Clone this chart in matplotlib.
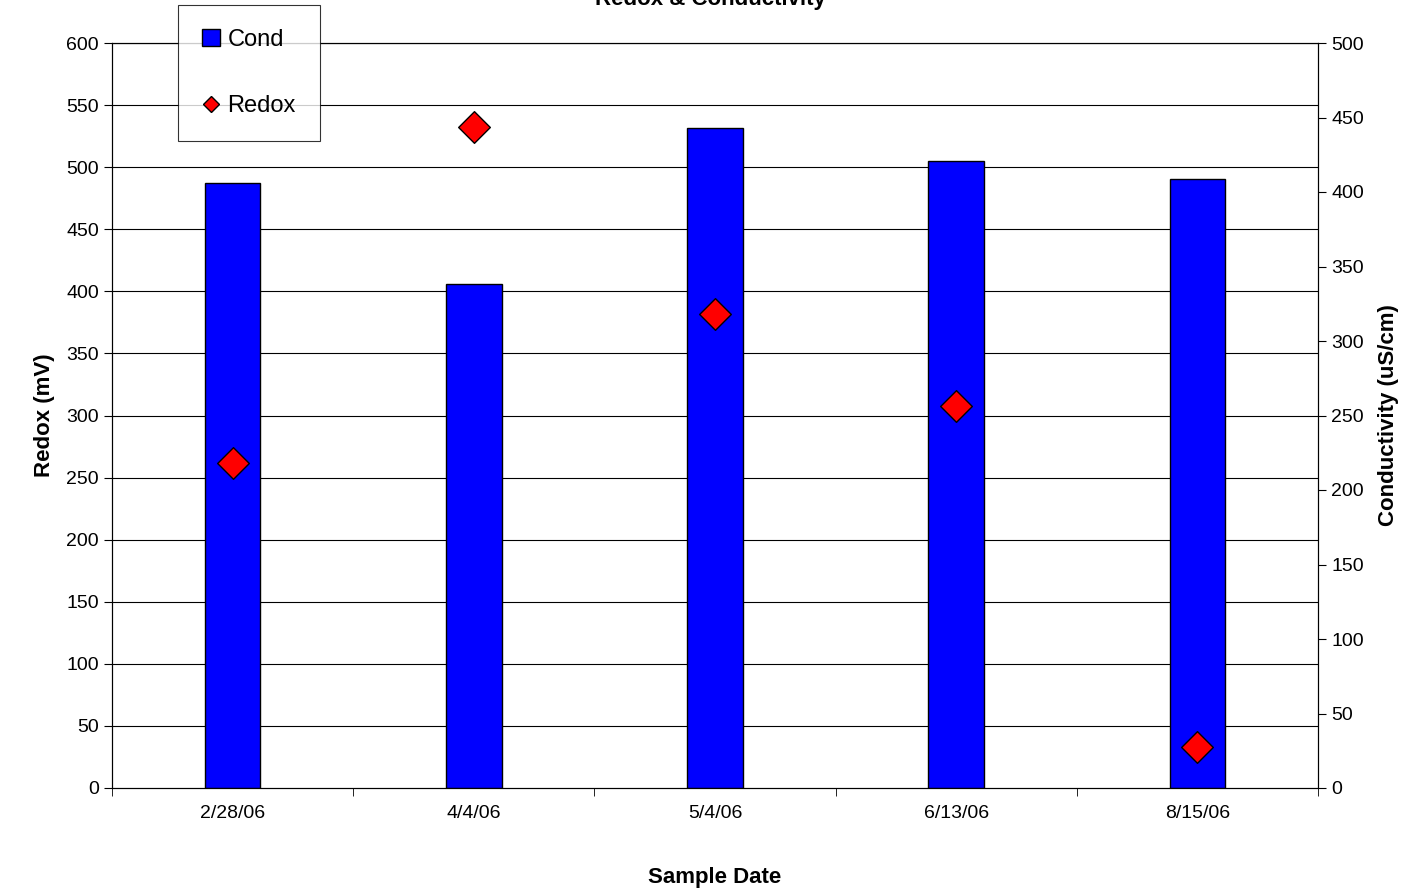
import matplotlib
matplotlib.use("Agg")
import matplotlib.pyplot as plt
from matplotlib.lines import Line2D
from matplotlib.patches import Patch

dates = ["2/28/06", "4/4/06", "5/4/06", "6/13/06", "8/15/06"]
cond = [406, 338, 443, 421, 409]
redox = [262, 532, 382, 308, 33]

plt.rcParams['font.family'] = ['Liberation Sans', 'DejaVu Sans']
fig = plt.figure(figsize=(14.21, 8.94), dpi=100)
ax = fig.add_axes([112/1421, 1-788/894, (1318-112)/1421, (788-43)/894])
ax2 = ax.twinx()
x = list(range(len(dates)))
ax.set_zorder(2); ax.patch.set_visible(False)
ax2.set_zorder(1)
ax2.bar(x, cond, width=0.23, color='#0000ff', edgecolor='black', linewidth=1, zorder=3)
ax.scatter(x, redox, marker='D', s=260, color='#ff0000', edgecolor='black', linewidth=1, zorder=4)
ax.set_xlim(-0.5, 4.5)
ax.set_ylim(0, 600); ax2.set_ylim(0, 500)
ax.set_yticks(range(0, 601, 50)); ax2.set_yticks(range(0, 501, 50))
for v in range(50, 601, 50):
    ax2.axhline(v*500/600, color='black', linewidth=0.8, zorder=0)
ax.set_xticks(x); ax.set_xticklabels(dates)
ax.set_xticks([i-0.5 for i in range(6)], minor=True)
ax.tick_params(axis='x', which='major', length=0, pad=12)
ax.tick_params(axis='x', which='minor', length=6, direction='out')
for a in (ax, ax2):
    a.tick_params(axis='y', labelsize=14, length=6)
    a.tick_params(axis='x', labelsize=14)
    for s in a.spines.values(): s.set_linewidth(0.8)
ax.set_ylabel("Redox (mV)", fontsize=16, fontweight='bold', labelpad=8)
ax2.set_ylabel("Conductivity (uS/cm)", fontsize=16, fontweight='bold', labelpad=10)
ax.set_xlabel("Sample Date", fontsize=16, fontweight='bold', labelpad=33)
fig.text(0.5, 1.0, "Redox & Conductivity", ha='center', va='center', fontsize=16, fontweight='bold')
handles = [Patch(facecolor='#0000ff', edgecolor='black', label='Cond'),
           Line2D([], [], marker='D', color='none', markerfacecolor='#ff0000', markeredgecolor='black', markersize=8, label='Redox')]
leg = fig.legend(handles=handles, loc='upper left', bbox_to_anchor=(178/1421, 1-5/894), fontsize=17,
                 frameon=True, fancybox=False, edgecolor='black', labelspacing=1.9,
                 handlelength=0.8, handletextpad=0.3, borderpad=1.0, borderaxespad=0)
leg.get_frame().set_linewidth(0.8)
fig.savefig("out.png", dpi=100)
